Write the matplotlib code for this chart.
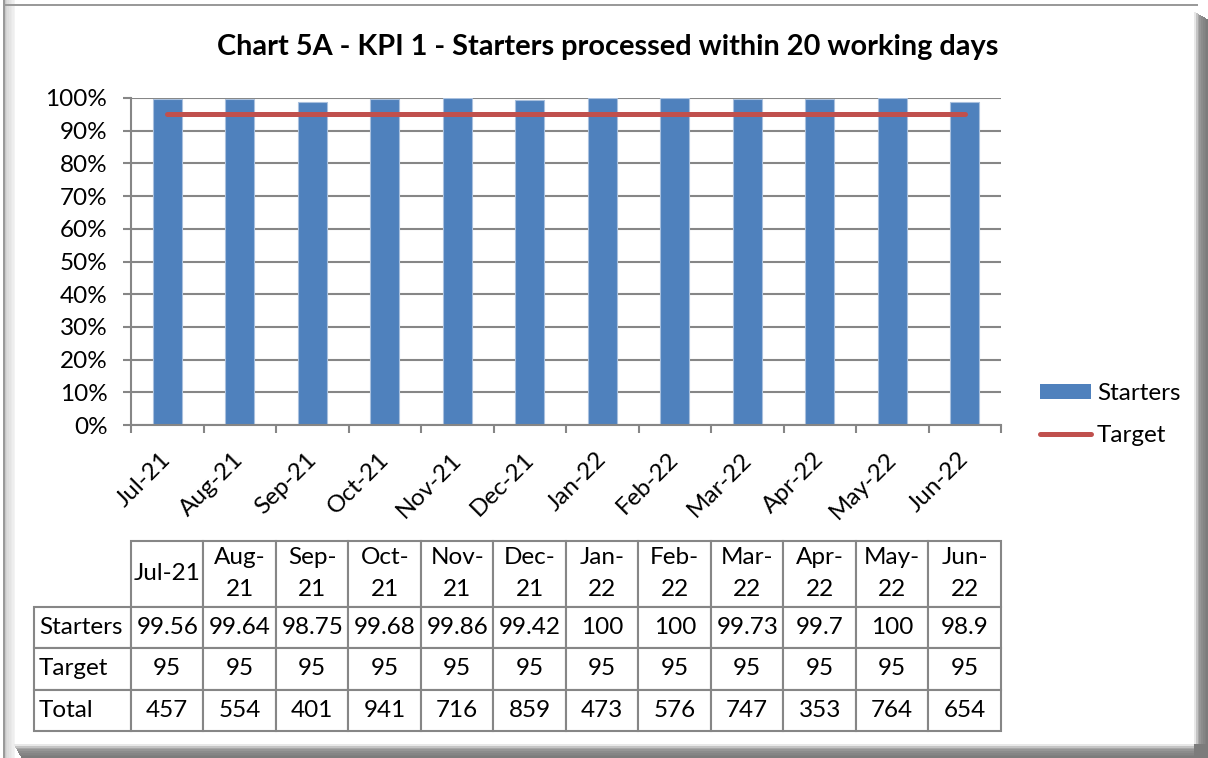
import numpy as np
import matplotlib.pyplot as plt
from matplotlib.patches import Rectangle, Patch
from matplotlib.lines import Line2D
from matplotlib.table import Table
from matplotlib.transforms import ScaledTranslation

plt.rcParams['font.family'] = ['Lato', 'DejaVu Sans']

months = ['Jul-21', 'Aug-21', 'Sep-21', 'Oct-21', 'Nov-21', 'Dec-21',
          'Jan-22', 'Feb-22', 'Mar-22', 'Apr-22', 'May-22', 'Jun-22']
starters = [99.56, 99.64, 98.75, 99.68, 99.86, 99.42, 100, 100, 99.73, 99.7, 100, 98.9]
target = [95] * 12
totals = [457, 554, 401, 941, 716, 859, 473, 576, 747, 353, 764, 654]

W, H = 1208, 758
FS = 17.5
BLUE = '#4F81BD'
RED = '#C0504D'
GREY = '#868686'


def fx(x):
    return x / W


def fy(y):
    return 1 - y / H


fig = plt.figure(figsize=(W / 100, H / 100), dpi=100)
fig.patch.set_facecolor('white')

# bevelled frame round the chart
for i, c in enumerate(['#9a9a9a', '#c8c8c8', '#d6d6d6', '#dedede', '#e4e4e4', '#e9e9e9', '#eeeeee', '#f3f3f3']):
    fig.add_artist(Rectangle((fx(3 + i * 1.5), 0), 1.5 / W, 1, transform=fig.transFigure,
                             facecolor=c, edgecolor='none', zorder=0))
fig.add_artist(Rectangle((fx(3), fy(6)), fx(1195), 2 / H, transform=fig.transFigure,
                         facecolor='#9a9a9a', edgecolor='none', zorder=1))
shades = ['#e8e8e8', '#c4c4c4', '#a8a8a8', '#969696', '#8c8c8c', '#858585', '#808080', '#7c7c7c']
for i, c in enumerate(shades):
    fig.add_artist(Rectangle((fx(1194 + i * 1.75), 0), 1.75 / W, fy(12 + i), transform=fig.transFigure,
                             facecolor=c, edgecolor='none', zorder=1))
    fig.add_artist(Rectangle((fx(14 + i), fy(744 + (i + 1) * 1.75)), fx(1194 - 14), 1.75 / H,
                             transform=fig.transFigure, facecolor=c, edgecolor='none', zorder=1))
fig.add_artist(Rectangle((fx(1208 - 14), 0), 14 / W, 14 / H, transform=fig.transFigure,
                         facecolor='#7c7c7c', edgecolor='none', zorder=1))

fig.text(fx(608), fy(47), 'Chart 5A - KPI 1 - Starters processed within 20 working days',
         ha='center', va='center', fontsize=20.8, fontweight='bold')

# bar chart
ax = fig.add_axes([fx(131), fy(425), fx(1001 - 131), (425 - 98) / H])
x = np.arange(len(months))
ax.bar(x, starters, width=0.4, color=BLUE, edgecolor='#a9c0de', linewidth=0.8, zorder=2)
ax.plot(x, target, color=RED, lw=3.6, solid_capstyle='round', zorder=3)
ax.set_xlim(-0.5, 11.5)
ax.set_ylim(0, 100)
ax.set_yticks(range(0, 101, 10))
ax.set_yticklabels([f'{v}%' for v in range(0, 101, 10)], fontsize=FS)
ax.set_axisbelow(True)
ax.grid(axis='y', color=GREY, lw=1.5)
for s in ['top', 'right']:
    ax.spines[s].set_visible(False)
for s in ['left', 'bottom']:
    ax.spines[s].set_color(GREY)
    ax.spines[s].set_linewidth(1.5)
ax.tick_params(axis='y', length=6, width=1.5, color=GREY, pad=11)
ax.set_xticks(x)
ax.set_xticklabels(months, rotation=45, ha='right', va='top', fontsize=FS)
ax.set_xticks(np.arange(-0.5, 12, 1), minor=True)
ax.tick_params(axis='x', which='major', length=0, pad=17)
ax.tick_params(axis='x', which='minor', length=5.5, width=1.5, color=GREY)
for lab in ax.get_xticklabels():
    lab.set_transform(lab.get_transform() + ScaledTranslation(0.08, 0, fig.dpi_scale_trans))

handles = [Patch(facecolor=BLUE, edgecolor='none'),
           Line2D([0], [0], color=RED, lw=3.6, solid_capstyle='round')]
fig.legend(handles, ['Starters', 'Target'], loc='center left',
           bbox_to_anchor=(fx(1040), fy(414.5)), frameon=False, fontsize=FS,
           handlelength=2.1, handleheight=0.55, handletextpad=0.25, labelspacing=0.85,
           borderpad=0, borderaxespad=0)

# data table under the chart
axt = fig.add_axes([fx(34), fy(731), fx(1001 - 34), (731 - 541) / H])
axt.axis('off')
tab = Table(axt, bbox=[0, 0, 1, 1])
lab_w, col_w = 97, 72.5
head_h, row_h = 66, 41.5
rows = [('Starters', [f'{v:g}' for v in starters]),
        ('Target', [f'{v:g}' for v in target]),
        ('Total', [str(v) for v in totals])]
for j, m in enumerate(months):
    txt = m if j == 0 else m.replace('-', '-\n')
    tab.add_cell(0, j + 1, col_w, head_h, text=txt, loc='center')
for i, (name, vals) in enumerate(rows):
    c = tab.add_cell(i + 1, 0, lab_w, row_h, text=name, loc='left')
    c.PAD = 0.05
    for j, v in enumerate(vals):
        tab.add_cell(i + 1, j + 1, col_w, row_h, text=v, loc='center')
tab.auto_set_font_size(False)
tab.set_fontsize(FS)
for cell in tab.get_celld().values():
    cell.set_edgecolor(GREY)
    cell.set_linewidth(1.5)
    cell.get_text().set_linespacing(1.65)
axt.add_table(tab)

fig.savefig('out.png', dpi=100)
